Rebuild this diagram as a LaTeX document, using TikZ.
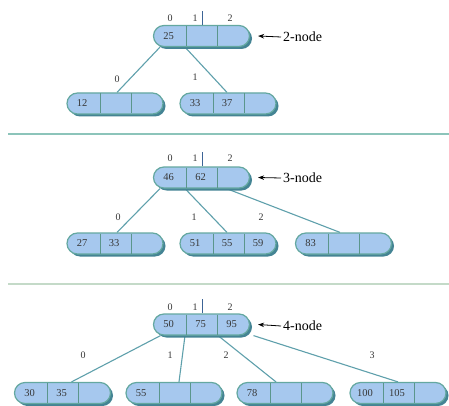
\documentclass[tikz,border=0pt]{standalone}
\usepackage{fontspec}
\setmainfont{Liberation Serif}
\usetikzlibrary{shapes.misc,shadows,arrows.meta}
\definecolor{cellfill}{RGB}{166,200,238}
\definecolor{bord}{RGB}{100,168,160}
\definecolor{shad}{RGB}{68,132,148}
\definecolor{divc}{RGB}{90,150,140}
\definecolor{edgec}{RGB}{95,160,172}
\definecolor{txt}{RGB}{55,55,55}
\definecolor{vlinec}{RGB}{60,100,150}
\definecolor{sepa}{RGB}{140,196,186}
\definecolor{sepb}{RGB}{196,218,200}
\pgfdeclarelayer{bg}
\pgfsetlayers{bg,main}
\tikzset{
 bnode/.style={rounded rectangle, draw=bord, line width=1.2pt, fill=cellfill,
   minimum width=96pt, minimum height=21pt, inner sep=0pt,
   drop shadow={shadow xshift=2.5pt, shadow yshift=-2.5pt, fill=shad, opacity=1}},
 cell/.style={font=\fontsize{10.5}{10.5}\selectfont, text=txt, inner sep=0pt},
 divider/.style={draw=divc, line width=1pt},
 edge/.style={draw=edgec, line width=1.1pt},
 lab/.style={font=\fontsize{10}{10}\selectfont, text=txt, inner sep=0pt},
 vline/.style={draw=vlinec, line width=0.9pt},
 sepline/.style={line width=2pt},
 ptr/.style={-{Stealth[length=6pt,width=4.5pt]}, line width=0.8pt, draw=black},
 ptrtxt/.style={font=\fontsize{14}{14}\selectfont, anchor=west, inner sep=0pt, text=black}
}
\newcommand\bn[6]{%
 \node[bnode] (#1) at (#2,#3) {};
 \draw[divider] ({#2-15},{#3-10}) -- ({#2-15},{#3+10});
 \draw[divider] ({#2+16},{#3-10}) -- ({#2+16},{#3+10});
 \node[cell] (#1a) at ({#2-33},#3) {#4};
 \node[cell] (#1b) at ({#2-1},#3) {#5};
 \node[cell] (#1c) at ({#2+30},#3) {#6};
}
\begin{document}
\begin{tikzpicture}[x=1pt,y=-1pt]
\begin{pgfonlayer}{bg}
\fill[white] (0,0) rectangle (449,406);
\end{pgfonlayer}
\useasboundingbox (0,0) rectangle (449,406);

% separators
\draw[sepline, sepa] (8,134) -- (449,134);
\draw[sepline, sepb] (8,283.5) -- (449,283.5);

% ---------- tree 1 ----------
\bn{ta}{201.5}{36}{25}{}{}
\bn{ua}{115}{103.5}{12}{}{}
\bn{ub}{228}{103.5}{33}{37}{}
\node[lab] (ta0) at (170,18) {0};
\node[lab] (ta1) at (195,18) {1};
\node[lab] (ta2) at (230,18) {2};
\draw[vline] ([xshift=0.5pt]ta.north) -- ++(0,-14);
\node[ptrtxt] (ka) at (283,37) {2-node};
\draw[ptr] ([xshift=-2pt]ka.west) -- ([xshift=8pt]ta.east);
\node[lab] (la0) at (117,79) {0};
\node[lab] (la1) at (195,77) {1};
\begin{pgfonlayer}{bg}
\draw[edge] ([xshift=-41.5pt]ta.south) -- ([xshift=2pt]ua.north);
\draw[edge] ([xshift=-16.5pt]ta.south) -- ([xshift=-1pt]ub.north);
\end{pgfonlayer}

% ---------- tree 2 ----------
\bn{tb}{201.5}{177.5}{46}{62}{}
\bn{va}{115}{243.5}{27}{33}{}
\bn{vb}{228}{243.5}{51}{55}{59}
\bn{vc}{343.5}{243.5}{83}{}{}
\node[lab] (tb0) at (170,158.5) {0};
\node[lab] (tb1) at (195,158.5) {1};
\node[lab] (tb2) at (230,158.5) {2};
\draw[vline] ([xshift=0.5pt]tb.north) -- ++(0,-14);
\node[ptrtxt] (kb) at (283,178) {3-node};
\draw[ptr] ([xshift=-2pt]kb.west) -- ([xshift=8pt]tb.east);
\node[lab] (lb0) at (118,217) {0};
\node[lab] (lb1) at (194,217) {1};
\node[lab] (lb2) at (261,217) {2};
\begin{pgfonlayer}{bg}
\draw[edge] ([xshift=-41.5pt]tb.south) -- ([xshift=2pt]va.north);
\draw[edge] ([xshift=-16.5pt]tb.south) -- ([xshift=-1pt]vb.north);
\draw[edge] ([xshift=25pt]tb.south) -- ([xshift=-3.5pt]vc.north);
\end{pgfonlayer}

% ---------- tree 3 ----------
\bn{tc}{201.5}{324.5}{50}{75}{95}
\bn{wa}{62.5}{393}{30}{35}{}
\bn{wb}{174}{393}{55}{}{}
\bn{wc}{285}{393}{78}{}{}
\bn{wd}{398}{393}{100}{105}{}
\node[lab] (tc0) at (170,307) {0};
\node[lab] (tc1) at (195,307) {1};
\node[lab] (tc2) at (230,307) {2};
\draw[vline] ([xshift=0.5pt]tc.north) -- ++(0,-14);
\node[ptrtxt] (kc) at (283,326) {4-node};
\draw[ptr] ([xshift=-2pt]kc.west) -- ([xshift=8pt]tc.east);
\node[lab] (lc0) at (83,355) {0};
\node[lab] (lc1) at (170,355) {1};
\node[lab] (lc2) at (226,355) {2};
\node[lab] (lc3) at (372,355) {3};
\begin{pgfonlayer}{bg}
\draw[edge] ([xshift=-41pt]tc.south) -- ([xshift=9pt]wa.north);
\draw[edge] ([xshift=-16.5pt]tc.south) -- ([xshift=5pt]wb.north);
\draw[edge] ([xshift=16.5pt]tc.south) -- ([xshift=-9pt]wc.north);
\draw[edge] ([xshift=52pt]tc.south) -- (wd.north);
\end{pgfonlayer}
\end{tikzpicture}
\end{document}
